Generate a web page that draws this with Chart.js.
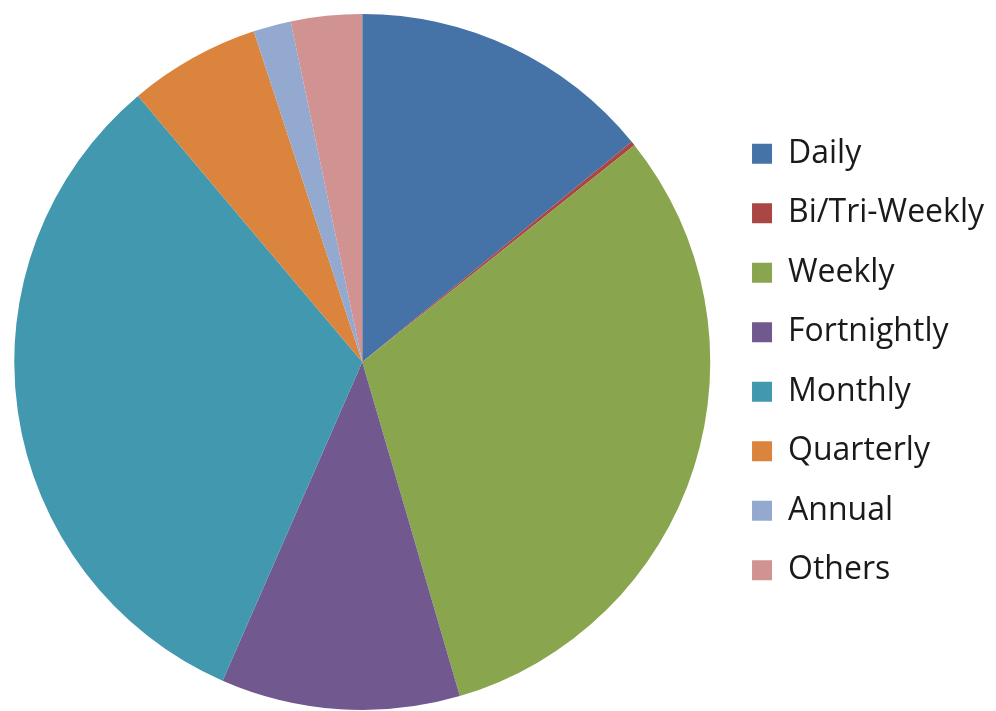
<!DOCTYPE html>
<html lang="en">
<head>
  <meta charset="UTF-8">
  <title>Frequency pie</title>
  <script src="https://cdn.jsdelivr.net/npm/chart.js"></script>
  <style>
    html, body { margin: 0; padding: 0; background: #ffffff; }
    #chart { display: block; }
  </style>
</head>
<body>
  <canvas id="chart" width="996" height="711"></canvas>
  <script>
    const labels = ['Daily', 'Bi/Tri-Weekly', 'Weekly', 'Fortnightly', 'Monthly', 'Quarterly', 'Annual', 'Others'];
    const shares = [14.1, 0.2, 31.2, 11.1, 32.3, 6.1, 1.75, 3.3];
    const colors = ['#4572A7', '#AA4643', '#89A54E', '#71588F', '#4198AF', '#DB843D', '#93A9CF', '#D19392'];

    new Chart(document.getElementById('chart'), {
      type: 'pie',
      data: {
        labels: labels,
        datasets: [{ data: shares, backgroundColor: colors, borderWidth: 0 }]
      },
      options: {
        responsive: false,
        animation: false,
        layout: { padding: { left: 0, top: 14, right: 2, bottom: 1 } },
        plugins: {
          tooltip: { enabled: false },
          legend: {
            position: 'right',
            labels: {
              boxWidth: 20, boxHeight: 20,
              padding: 27.5,
              color: '#1a1a1a',
              font: { family: 'Open Sans', size: 32 }
            }
          }
        }
      }
    });
  </script>
</body>
</html>
